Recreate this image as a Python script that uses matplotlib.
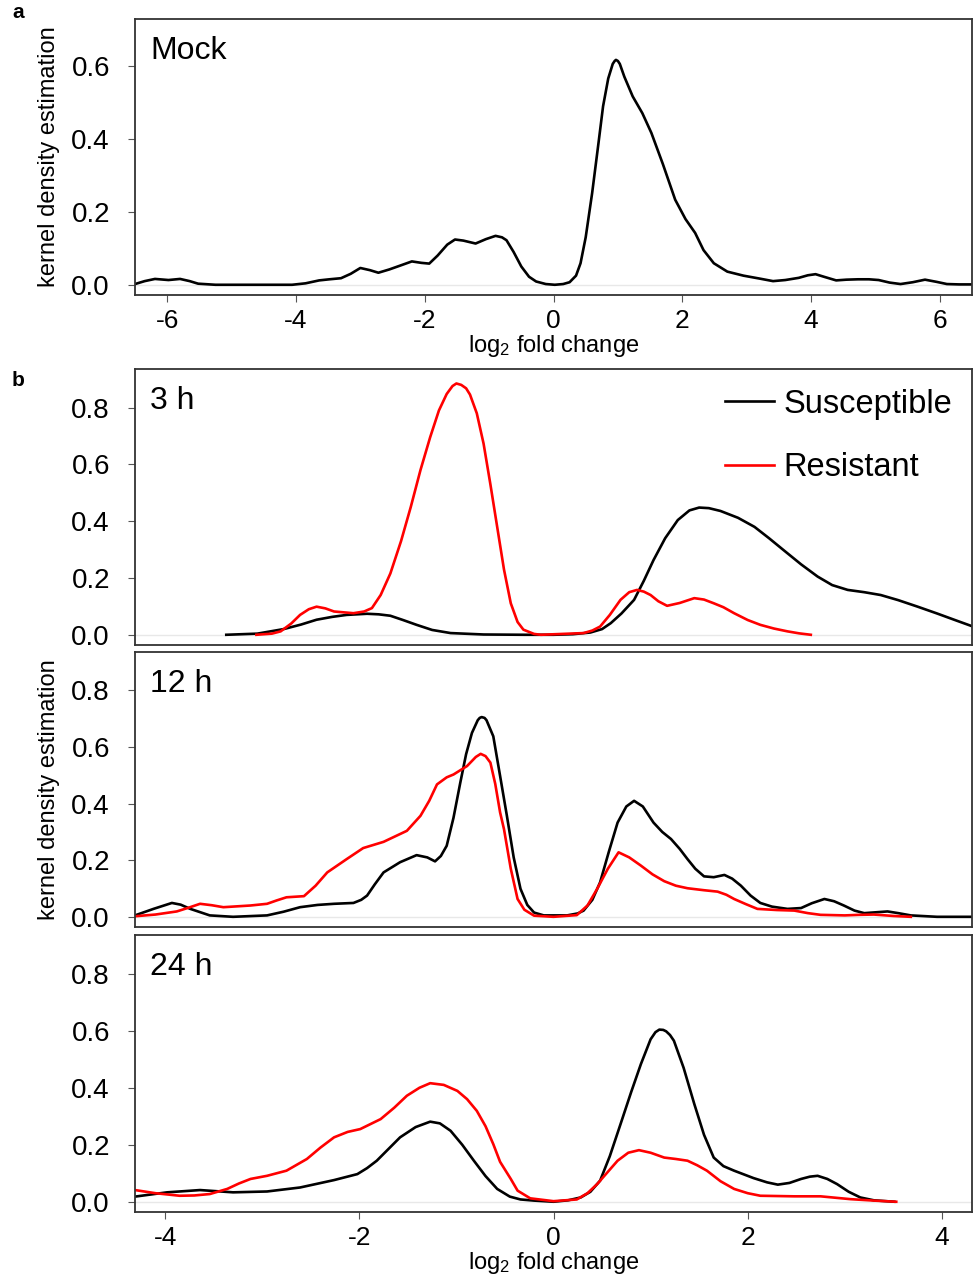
import numpy as np
import matplotlib
matplotlib.use("Agg")
import matplotlib.pyplot as plt

plt.rcParams['font.family'] = ['Liberation Sans', 'DejaVu Sans']
plt.rcParams['mathtext.fontset'] = 'custom'
plt.rcParams['mathtext.rm'] = 'Liberation Sans'
plt.rcParams['mathtext.default'] = 'regular'
plt.rcParams['axes.unicode_minus'] = False

# ---- panel a: mock ----
mock_x = [-6.5, -6.35, -6.19, -5.98, -5.80, -5.65, -5.52, -5.25, -4.5, -4.06, -3.85, -3.64, -3.48,
          -3.3, -3.15, -3.0, -2.85, -2.72, -2.55, -2.39, -2.2, -2.05, -1.93, -1.8, -1.65, -1.53,
          -1.40, -1.21, -1.05, -0.90, -0.80, -0.73, -0.62, -0.50, -0.38, -0.27, -0.12, 0.02, 0.15,
          0.25, 0.35, 0.42, 0.50, 0.60, 0.70, 0.77, 0.85, 0.92, 0.95, 0.97, 1.00, 1.03, 1.10, 1.23,
          1.38, 1.52, 1.70, 1.89, 2.05, 2.20, 2.33, 2.49, 2.70, 2.95, 3.20, 3.41, 3.60, 3.81, 3.95,
          4.07, 4.20, 4.39, 4.55, 4.73, 4.90, 5.05, 5.22, 5.39, 5.58, 5.77, 5.95, 6.11, 6.3, 6.5]
mock_y = [0.002, 0.010, 0.016, 0.013, 0.016, 0.010, 0.003, 0.0, 0.0, 0.0, 0.004, 0.012, 0.015,
          0.018, 0.030, 0.046, 0.040, 0.033, 0.042, 0.052, 0.064, 0.060, 0.058, 0.080, 0.110, 0.124,
          0.121, 0.113, 0.125, 0.134, 0.130, 0.122, 0.090, 0.050, 0.022, 0.009, 0.002, 0.0, 0.002,
          0.007, 0.025, 0.059, 0.130, 0.251, 0.390, 0.489, 0.565, 0.605, 0.613, 0.616, 0.613, 0.605,
          0.570, 0.516, 0.470, 0.416, 0.330, 0.233, 0.180, 0.142, 0.095, 0.059, 0.036, 0.025, 0.017,
          0.010, 0.013, 0.019, 0.026, 0.029, 0.022, 0.012, 0.014, 0.015, 0.015, 0.013, 0.006, 0.002,
          0.007, 0.014, 0.008, 0.002, 0.001, 0.001]

# ---- panel b: 3 h ----
s3_x = [-3.37, -3.05, -2.78, -2.60, -2.44, -2.28, -2.13, -1.92, -1.80, -1.68, -1.55, -1.41, -1.25,
        -1.06, -0.72, -0.3, 0.0, 0.20, 0.38, 0.50, 0.59, 0.70, 0.83, 0.93, 1.03, 1.15, 1.28, 1.40,
        1.50, 1.60, 1.72, 1.90, 2.07, 2.22, 2.37, 2.55, 2.72, 2.87, 3.03, 3.20, 3.37, 3.55, 3.75,
        3.95, 4.15, 4.32]
s3_y = [0.0, 0.004, 0.020, 0.036, 0.053, 0.063, 0.070, 0.074, 0.072, 0.067, 0.052, 0.035, 0.017,
        0.006, 0.001, 0.0, 0.0, 0.002, 0.008, 0.020, 0.041, 0.075, 0.123, 0.190, 0.263, 0.340, 0.404,
        0.438, 0.448, 0.446, 0.436, 0.412, 0.380, 0.340, 0.298, 0.248, 0.205, 0.175, 0.158, 0.150,
        0.140, 0.122, 0.099, 0.075, 0.050, 0.029]
r3_x = [-3.06, -2.90, -2.81, -2.70, -2.61, -2.52, -2.44, -2.35, -2.26, -2.06, -1.95, -1.87, -1.78,
        -1.68, -1.57, -1.47, -1.37, -1.27, -1.18, -1.10, -1.04, -1.00, -0.95, -0.90, -0.86, -0.79,
        -0.72, -0.65, -0.58, -0.51, -0.44, -0.37, -0.31, -0.20, -0.13, 0.31, 0.40, 0.48, 0.58, 0.69,
        0.78, 0.86, 0.93, 1.00, 1.08, 1.17, 1.30, 1.45, 1.55, 1.65, 1.75, 1.86, 2.00, 2.13, 2.27,
        2.41, 2.53, 2.65]
r3_y = [0.0, 0.004, 0.012, 0.040, 0.070, 0.090, 0.099, 0.093, 0.082, 0.076, 0.082, 0.094, 0.140,
        0.216, 0.330, 0.450, 0.580, 0.696, 0.790, 0.848, 0.876, 0.885, 0.880, 0.868, 0.846, 0.780,
        0.673, 0.530, 0.380, 0.230, 0.111, 0.045, 0.018, 0.003, 0.0, 0.006, 0.015, 0.029, 0.070,
        0.123, 0.150, 0.158, 0.152, 0.140, 0.118, 0.102, 0.112, 0.129, 0.124, 0.111, 0.097, 0.076,
        0.052, 0.035, 0.022, 0.012, 0.005, 0.0]

# ---- panel b: 12 h ----
s12_x = [-4.31, -4.12, -3.93, -3.84, -3.74, -3.54, -3.30, -2.95, -2.78, -2.61, -2.43, -2.26, -2.06,
         -1.98, -1.92, -1.84, -1.75, -1.58, -1.41, -1.30, -1.22, -1.16, -1.10, -1.03, -0.96, -0.90,
         -0.84, -0.78, -0.76, -0.74, -0.71, -0.69, -0.62, -0.55, -0.48, -0.41, -0.34, -0.27, -0.20,
         -0.10, 0.14, 0.25, 0.31, 0.40, 0.48, 0.57, 0.66, 0.75, 0.83, 0.92, 1.03, 1.12, 1.21, 1.30,
         1.38, 1.46, 1.55, 1.65, 1.76, 1.84, 1.93, 2.03, 2.13, 2.25, 2.41, 2.55, 2.66, 2.79, 2.89,
         2.99, 3.10, 3.20, 3.32, 3.44, 3.55, 3.68, 3.95, 4.31]
s12_y = [0.005, 0.028, 0.049, 0.043, 0.028, 0.005, 0.0, 0.005, 0.018, 0.034, 0.042, 0.046, 0.049,
         0.060, 0.075, 0.115, 0.157, 0.193, 0.218, 0.210, 0.196, 0.215, 0.251, 0.350, 0.474, 0.575,
         0.650, 0.695, 0.703, 0.706, 0.703, 0.695, 0.638, 0.498, 0.357, 0.210, 0.099, 0.042, 0.015,
         0.005, 0.005, 0.012, 0.022, 0.060, 0.122, 0.230, 0.333, 0.390, 0.410, 0.390, 0.333, 0.300,
         0.275, 0.240, 0.204, 0.170, 0.143, 0.140, 0.148, 0.135, 0.110, 0.075, 0.049, 0.036, 0.028,
         0.031, 0.048, 0.063, 0.055, 0.040, 0.022, 0.013, 0.016, 0.019, 0.013, 0.005, 0.0, 0.0]
r12_x = [-4.31, -4.10, -3.88, -3.76, -3.64, -3.52, -3.40, -3.12, -2.95, -2.85, -2.75, -2.57, -2.45,
         -2.33, -2.13, -1.96, -1.75, -1.51, -1.37, -1.28, -1.20, -1.10, -1.03, -0.89, -0.80, -0.75,
         -0.70, -0.65, -0.60, -0.55, -0.51, -0.44, -0.37, -0.30, -0.20, 0.0, 0.24, 0.35, 0.45, 0.56,
         0.67, 0.78, 0.90, 1.02, 1.14, 1.26, 1.38, 1.55, 1.69, 1.78, 1.86, 1.98, 2.10, 2.30, 2.48,
         2.62, 2.75, 3.00, 3.15, 3.30, 3.50, 3.68]
r12_y = [0.002, 0.008, 0.019, 0.032, 0.046, 0.041, 0.034, 0.040, 0.046, 0.058, 0.069, 0.073, 0.110,
         0.157, 0.204, 0.243, 0.265, 0.304, 0.357, 0.410, 0.468, 0.493, 0.503, 0.533, 0.565, 0.576,
         0.568, 0.545, 0.470, 0.369, 0.310, 0.170, 0.063, 0.025, 0.004, 0.0, 0.006, 0.040, 0.099,
         0.170, 0.228, 0.210, 0.181, 0.150, 0.126, 0.110, 0.101, 0.094, 0.089, 0.078, 0.063, 0.045,
         0.028, 0.024, 0.022, 0.013, 0.007, 0.005, 0.007, 0.008, 0.003, 0.0]

# ---- panel b: 24 h ----
s24_x = [-4.31, -3.98, -3.64, -3.30, -2.95, -2.61, -2.26, -2.02, -1.92, -1.82, -1.70, -1.58, -1.42,
         -1.27, -1.17, -1.06, -0.94, -0.82, -0.70, -0.58, -0.45, -0.34, -0.20, 0.0, 0.15, 0.28, 0.38,
         0.48, 0.58, 0.69, 0.80, 0.90, 1.00, 1.05, 1.09, 1.13, 1.16, 1.20, 1.24, 1.34, 1.45, 1.55,
         1.65, 1.75, 1.86, 2.06, 2.20, 2.31, 2.43, 2.55, 2.64, 2.72, 2.82, 2.92, 3.04, 3.16, 3.30,
         3.51]
s24_y = [0.018, 0.033, 0.041, 0.033, 0.036, 0.050, 0.076, 0.097, 0.118, 0.144, 0.185, 0.226, 0.262,
         0.281, 0.275, 0.249, 0.200, 0.144, 0.090, 0.045, 0.018, 0.008, 0.004, 0.0, 0.005, 0.015,
         0.035, 0.074, 0.160, 0.272, 0.385, 0.483, 0.570, 0.595, 0.604, 0.603, 0.598, 0.585, 0.565,
         0.470, 0.343, 0.235, 0.155, 0.125, 0.109, 0.083, 0.068, 0.060, 0.066, 0.080, 0.088, 0.091,
         0.080, 0.062, 0.035, 0.015, 0.005, 0.0]
r24_x = [-4.31, -4.10, -3.85, -3.70, -3.54, -3.36, -3.24, -3.12, -2.95, -2.75, -2.54, -2.40, -2.26,
         -2.12, -1.99, -1.78, -1.64, -1.51, -1.38, -1.27, -1.13, -0.99, -0.89, -0.79, -0.70, -0.62,
         -0.55, -0.44, -0.37, -0.24, 0.0, 0.24, 0.35, 0.45, 0.56, 0.66, 0.77, 0.88, 1.00, 1.14, 1.26,
         1.38, 1.48, 1.58, 1.72, 1.86, 2.00, 2.13, 2.48, 2.75, 3.06, 3.30, 3.53]
r24_y = [0.041, 0.030, 0.021, 0.022, 0.027, 0.045, 0.064, 0.080, 0.091, 0.109, 0.150, 0.190, 0.226,
         0.245, 0.255, 0.290, 0.330, 0.372, 0.400, 0.416, 0.410, 0.389, 0.360, 0.319, 0.265, 0.202,
         0.140, 0.080, 0.039, 0.012, 0.002, 0.008, 0.030, 0.062, 0.105, 0.144, 0.172, 0.181, 0.172,
         0.155, 0.150, 0.144, 0.128, 0.109, 0.072, 0.045, 0.030, 0.021, 0.019, 0.019, 0.009, 0.004,
         0.0]

panel_names = ["3 h", "12 h", "24 h"]
susceptible = [(s3_x, s3_y), (s12_x, s12_y), (s24_x, s24_y)]
resistant = [(r3_x, r3_y), (r12_x, r12_y), (r24_x, r24_y)]

W, H = 975, 1279
fig = plt.figure(figsize=(W / 100, H / 100), dpi=100)

def box(top, bottom, left=135, right=972):
    return [left / W, 1 - bottom / H, (right - left) / W, (bottom - top) / H]

frame_col = '#333333'
lw = 1.9

def style(ax):
    for sp in ax.spines.values():
        sp.set_color(frame_col)
        sp.set_linewidth(1.3)
    ax.tick_params(axis='both', length=5, width=0.8, color='#555555')
    ax.tick_params(axis='y', labelsize=20, pad=13)
    ax.tick_params(axis='x', labelsize=19, pad=5)
    ax.axhline(0, color='#e8e8e8', lw=1, zorder=0)

# panel a
axa = fig.add_axes(box(19, 295))
axa.plot(mock_x, mock_y, color='black', lw=lw, solid_joinstyle='round')
axa.set_xlim(-6.5, 6.5)
axa.set_ylim(-0.028, 0.728)
axa.set_xticks(np.arange(-6, 7, 2))
axa.set_yticks([0.0, 0.2, 0.4, 0.6])
axa.set_yticklabels(['0.0', '0.2', '0.4', '0.6'])
style(axa)
axa.set_xlabel('log$_2$ fold change', fontsize=17, labelpad=0)
axa.set_ylabel('kernel density estimation', fontsize=17, labelpad=8)
axa.text(0.018, 0.94, 'Mock', transform=axa.transAxes, fontsize=23, va='top', ha='left')
fig.text(18 / W, 1 - 12 / H, 'a', fontsize=15, fontweight='bold', va='center', ha='center')

# panel b
tops = [369, 652, 935]
bottoms = [645, 927, 1212]
axes_b = []
for i in range(3):
    ax = fig.add_axes(box(tops[i], bottoms[i]))
    sx, sy = susceptible[i]
    rx, ry = resistant[i]
    ax.plot(sx, sy, color='black', lw=lw, solid_joinstyle='round', label='Susceptible')
    ax.plot(rx, ry, color='#ff0000', lw=lw, solid_joinstyle='round', label='Resistant')
    ax.set_xlim(-4.31, 4.31)
    ax.set_ylim(-0.036, 0.936)
    ax.set_yticks([0.0, 0.2, 0.4, 0.6, 0.8])
    ax.set_yticklabels(['0.0', '0.2', '0.4', '0.6', '0.8'])
    style(ax)
    ax.text(0.018, 0.94, panel_names[i], transform=ax.transAxes, fontsize=23, va='top', ha='left')
    if i < 2:
        ax.set_xticks([])
    else:
        ax.set_xticks([-4, -2, 0, 2, 4])
        ax.set_xlabel('log$_2$ fold change', fontsize=17, labelpad=0)
    axes_b.append(ax)

axes_b[0].legend(loc='upper right', frameon=False, fontsize=23.5, handlelength=1.5,
                 handletextpad=0.3, labelspacing=1.0, borderaxespad=0.2)
axes_b[1].set_ylabel('kernel density estimation', fontsize=17, labelpad=8)
fig.text(18 / W, 1 - 381 / H, 'b', fontsize=15, fontweight='bold', va='center', ha='center')

fig.savefig('out.png', dpi=100)
